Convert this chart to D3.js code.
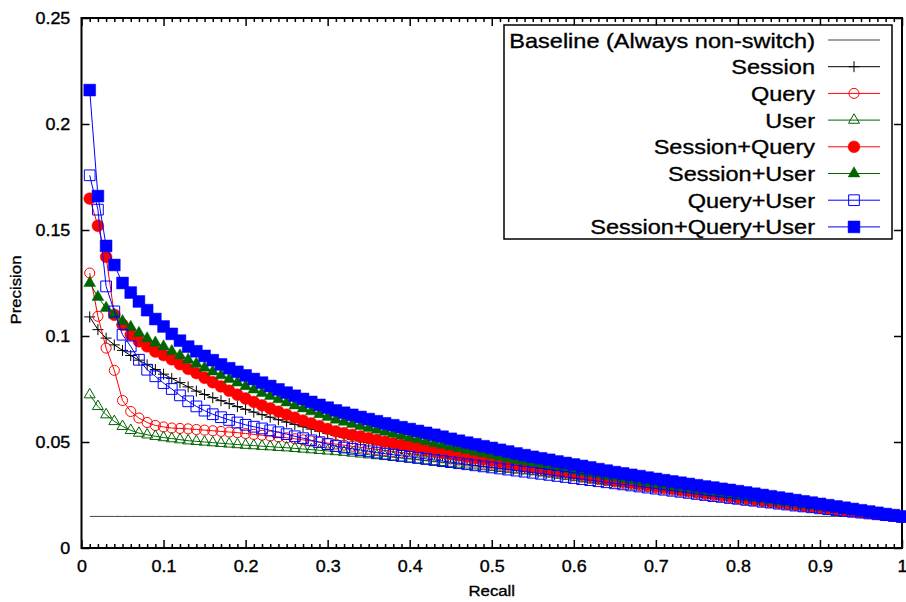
<!DOCTYPE html>
<html>
<head>
<meta charset="utf-8">
<script src="https://cdn.jsdelivr.net/npm/d3@7"></script>
<style>
  body { margin: 0; background: #fff; }
  text { font-family: "Liberation Sans", Arial, Helvetica, sans-serif; fill: #000; stroke: #000; stroke-width: 0.35px; }
</style>
</head>
<body>
<svg id="chart" width="906" height="602"></svg>
<script>
// recall grid: 0.01 .. 1.00
const recall = d3.range(1, 101).map(i => i / 100);

const baselineValue = 0.0149;

const session = [
  .1090,.1030,.0990,.0958,.0932,.0908,.0886,.0864,.0842,.0820,
  .0800,.0780,.0760,.0740,.0724,.0709,.0695,.0681,.0667,.0654,
  .0641,.0629,.0617,.0605,.0594,.0583,.0572,.0561,.0551,.0541,
  .0531,.0522,.0513,.0505,.0497,.0489,.0481,.0474,.0467,.0460,
  .0454,.0448,.0442,.0436,.0430,.0424,.0418,.0412,.0406,.0400,
  .0395,.0390,.0385,.0380,.0375,.0369,.0363,.0357,.0351,.0345,
  .0339,.0333,.0327,.0321,.0315,.0309,.0304,.0298,.0293,.0287,
  .0282,.0277,.0271,.0266,.0261,.0256,.0251,.0246,.0241,.0236,
  .0231,.0226,.0222,.0217,.0212,.0208,.0203,.0199,.0194,.0190,
  .0186,.0181,.0177,.0172,.0168,.0164,.0160,.0155,.0151,.0147
];
const query = [
  .1297,.1093,.0943,.0838,.0696,.0644,.0613,.0592,.0578,.0571,
  .0566,.0564,.0562,.0559,.0556,.0553,.0550,.0547,.0544,.0540,
  .0536,.0532,.0528,.0524,.0520,.0515,.0510,.0505,.0500,.0495,
  .0490,.0485,.0480,.0475,.0470,.0465,.0460,.0455,.0450,.0445,
  .0440,.0435,.0430,.0425,.0420,.0415,.0410,.0405,.0400,.0395,
  .0390,.0385,.0380,.0375,.0370,.0364,.0358,.0352,.0346,.0340,
  .0334,.0328,.0323,.0317,.0311,.0305,.0300,.0294,.0289,.0283,
  .0278,.0273,.0268,.0263,.0258,.0253,.0248,.0243,.0238,.0233,
  .0228,.0224,.0219,.0215,.0210,.0206,.0201,.0197,.0193,.0188,
  .0184,.0180,.0176,.0171,.0167,.0163,.0159,.0155,.0151,.0147
];
const user = [
  .0723,.0668,.0629,.0597,.0574,.0555,.0542,.0534,.0527,.0521,
  .0516,.0511,.0506,.0503,.0500,.0497,.0494,.0491,.0488,.0485,
  .0483,.0480,.0478,.0475,.0473,.0470,.0467,.0464,.0461,.0458,
  .0455,.0452,.0448,.0444,.0440,.0436,.0432,.0428,.0424,.0420,
  .0416,.0412,.0408,.0404,.0400,.0396,.0392,.0388,.0384,.0380,
  .0376,.0372,.0368,.0364,.0360,.0355,.0350,.0345,.0340,.0335,
  .0330,.0325,.0320,.0314,.0309,.0304,.0299,.0294,.0289,.0284,
  .0279,.0274,.0269,.0264,.0259,.0254,.0249,.0244,.0239,.0234,
  .0229,.0225,.0220,.0216,.0211,.0207,.0202,.0198,.0194,.0189,
  .0185,.0181,.0177,.0172,.0168,.0164,.0160,.0156,.0151,.0147
];
const sessionQuery = [
  .1648,.1520,.1373,.1100,.1053,.1006,.0975,.0951,.0927,.0910,
  .0890,.0867,.0845,.0825,.0803,.0782,.0762,.0742,.0723,.0705,
  .0689,.0673,.0658,.0643,.0629,.0615,.0601,.0588,.0575,.0562,
  .0550,.0542,.0534,.0526,.0518,.0510,.0502,.0494,.0487,.0480,
  .0473,.0466,.0459,.0452,.0445,.0438,.0431,.0424,.0418,.0412,
  .0406,.0400,.0394,.0388,.0382,.0376,.0370,.0364,.0358,.0352,
  .0346,.0340,.0334,.0327,.0321,.0315,.0310,.0304,.0298,.0292,
  .0287,.0282,.0276,.0271,.0265,.0260,.0255,.0250,.0245,.0240,
  .0235,.0230,.0225,.0220,.0215,.0211,.0206,.0201,.0196,.0192,
  .0188,.0183,.0179,.0174,.0169,.0165,.0161,.0156,.0152,.0147
];
const sessionUser = [
  .1250,.1184,.1132,.1100,.1069,.1042,.1014,.0988,.0968,.0950,
  .0928,.0908,.0888,.0869,.0850,.0832,.0814,.0797,.0780,.0763,
  .0747,.0731,.0716,.0701,.0686,.0672,.0658,.0644,.0631,.0618,
  .0605,.0595,.0585,.0575,.0566,.0557,.0548,.0539,.0530,.0521,
  .0512,.0503,.0494,.0486,.0478,.0470,.0462,.0454,.0446,.0438,
  .0430,.0422,.0415,.0408,.0401,.0394,.0387,.0380,.0373,.0365,
  .0358,.0352,.0346,.0339,.0333,.0326,.0320,.0313,.0307,.0301,
  .0295,.0290,.0284,.0278,.0272,.0266,.0261,.0255,.0250,.0244,
  .0239,.0234,.0229,.0224,.0218,.0214,.0209,.0204,.0199,.0194,
  .0190,.0185,.0180,.0175,.0171,.0166,.0162,.0157,.0152,.0147
];
const queryUser = [
  .1758,.1596,.1234,.1116,.1006,.0951,.0888,.0841,.0810,.0778,
  .0750,.0720,.0692,.0668,.0648,.0631,.0617,.0604,.0592,.0581,
  .0572,.0564,.0555,.0546,.0537,.0527,.0518,.0508,.0499,.0490,
  .0481,.0474,.0468,.0462,.0456,.0450,.0445,.0440,.0435,.0430,
  .0425,.0420,.0415,.0410,.0405,.0400,.0395,.0390,.0385,.0380,
  .0375,.0370,.0365,.0360,.0355,.0350,.0345,.0340,.0335,.0330,
  .0325,.0320,.0315,.0310,.0305,.0300,.0295,.0290,.0285,.0280,
  .0275,.0270,.0265,.0260,.0255,.0250,.0245,.0241,.0236,.0232,
  .0227,.0223,.0218,.0214,.0209,.0205,.0200,.0196,.0192,.0187,
  .0183,.0179,.0175,.0171,.0167,.0163,.0159,.0155,.0151,.0147
];
const sessionQueryUser = [
  .2160,.1660,.1425,.1335,.1250,.1205,.1163,.1122,.1080,.1045,
  .1010,.0978,.0950,.0928,.0906,.0886,.0866,.0848,.0831,.0814,
  .0797,.0780,.0764,.0748,.0733,.0718,.0703,.0689,.0675,.0662,
  .0649,.0638,.0628,.0618,.0608,.0598,.0588,.0579,.0570,.0561,
  .0552,.0543,.0534,.0525,.0515,.0506,.0497,.0489,.0480,.0472,
  .0463,.0455,.0446,.0438,.0430,.0423,.0416,.0408,.0401,.0394,
  .0387,.0380,.0372,.0365,.0358,.0352,.0345,.0339,.0332,.0326,
  .0320,.0314,.0308,.0302,.0296,.0290,.0285,.0279,.0274,.0268,
  .0262,.0256,.0250,.0244,.0238,.0232,.0226,.0220,.0214,.0208,
  .0202,.0196,.0190,.0184,.0178,.0172,.0166,.0160,.0155,.0149
];

const seriesNames = ["Session", "Query", "User", "Session+Query", "Session+User", "Query+User", "Session+Query+User"];
const seriesValues = [session, query, user, sessionQuery, sessionUser, queryUser, sessionQueryUser];
const seriesColors = ["#000000", "#ff0000", "#006400", "#ff0000", "#006400", "#0000ff", "#0000ff"];
const seriesMarkers = ["plus", "circleOpen", "triangleOpen", "circle", "triangle", "squareOpen", "square"];
const baselineName = "Baseline (Always non-switch)";

const xTicks = [0, 0.1, 0.2, 0.3, 0.4, 0.5, 0.6, 0.7, 0.8, 0.9, 1];
const yTicks = [0, 0.05, 0.1, 0.15, 0.2, 0.25];

const svg = d3.select("#chart");
const x = d3.scaleLinear().domain([0, 1]).range([81.5, 902]);
const y = d3.scaleLinear().domain([0, 0.25]).range([548, 18]);
const stretch = "scale(1.12,1)";
const fmt = d => String(+d.toFixed(2));

// minor x ticks every 0.01
const xMinor = d3.range(0, 101).map(i => i / 100).filter(v => Math.round(v * 100) % 10 !== 0);

function tidy(g) {
  g.select(".domain").remove();
  g.selectAll("line").attr("stroke", "#000").attr("stroke-width", 1.5);
}

svg.append("g").attr("transform", "translate(0,548)")
  .call(d3.axisBottom(x).tickValues(xMinor).tickSize(-4).tickFormat(""))
  .call(tidy);
svg.append("g").attr("transform", "translate(0,18)")
  .call(d3.axisTop(x).tickValues(xMinor).tickSize(-4).tickFormat(""))
  .call(tidy);
svg.append("g").attr("transform", "translate(0,18)")
  .call(d3.axisTop(x).tickValues(xTicks).tickSize(-8).tickFormat(""))
  .call(tidy);
svg.append("g").attr("transform", "translate(902,0)")
  .call(d3.axisRight(y).tickValues(yTicks).tickSize(-8).tickFormat(""))
  .call(tidy);

const xAxis = svg.append("g").attr("transform", "translate(0,548)")
  .call(d3.axisBottom(x).tickValues(xTicks).tickSize(-8).tickPadding(13).tickFormat(fmt))
  .call(tidy);
const yAxis = svg.append("g").attr("transform", "translate(81.5,0)")
  .call(d3.axisLeft(y).tickValues(yTicks).tickSize(-8).tickPadding(10).tickFormat(fmt))
  .call(tidy);
[xAxis, yAxis].forEach(g => g.selectAll("text")
  .attr("font-size", 16).attr("fill", "#000").attr("stroke", "#000").attr("stroke-width", 0.4)
  .attr("font-family", "'Liberation Sans', Arial, sans-serif")
  .attr("transform", stretch));

// frame
svg.append("rect")
  .attr("x", x(0)).attr("y", y(0.25))
  .attr("width", x(1) - x(0)).attr("height", y(0) - y(0.25))
  .attr("fill", "none").attr("stroke", "#000").attr("stroke-width", 2);

// axis titles
svg.append("text").attr("transform", `translate(${(x(0) + x(1)) / 2},596) ${stretch}`)
  .attr("text-anchor", "middle").attr("font-size", 15).text("Recall");
svg.append("text").attr("transform", `translate(21,290) rotate(-90) ${stretch}`)
  .attr("text-anchor", "middle").attr("font-size", 15).text("Precision");

function drawMarker(g, type, color) {
  if (type === "plus") {
    g.append("path").attr("d", "M-5.5,0H5.5M0,-5.5V5.5").attr("stroke", color).attr("stroke-width", 1).attr("fill", "none");
    return;
  }
  const sym = {
    circleOpen: [d3.symbolCircle, 80], circle: [d3.symbolCircle, 110],
    triangleOpen: [d3.symbolTriangle, 52], triangle: [d3.symbolTriangle, 60],
    squareOpen: [d3.symbolSquare, 115], square: [d3.symbolSquare, 140]
  }[type];
  const filled = !type.endsWith("Open");
  g.append("path").attr("d", d3.symbol(sym[0], sym[1])())
    .attr("fill", filled ? color : "none")
    .attr("stroke", color).attr("stroke-width", filled ? 0.5 : 1);
}

const line = d3.line().x(d => x(d[0])).y(d => y(d[1]));

// baseline
svg.append("path")
  .datum(recall.map(r => [r, baselineValue]))
  .attr("d", line).attr("fill", "none").attr("stroke", "#444").attr("stroke-width", 1);

seriesValues.forEach((vals, k) => {
  const pts = recall.map((r, i) => [r, vals[i]]);
  svg.append("path").datum(pts).attr("d", line)
    .attr("fill", "none").attr("stroke", seriesColors[k]).attr("stroke-width", 1);
  const mg = svg.append("g");
  pts.forEach(p => {
    const g = mg.append("g").attr("transform", `translate(${x(p[0])},${y(p[1])})`);
    drawMarker(g, seriesMarkers[k], seriesColors[k]);
  });
});

// legend
const legend = svg.append("g");
legend.append("rect").attr("x", 504).attr("y", 25).attr("width", 388).attr("height", 214)
  .attr("fill", "#fff").attr("stroke", "#000").attr("stroke-width", 1.5);
const legendNames = [baselineName].concat(seriesNames);
const legendColors = ["#444"].concat(seriesColors);
const legendMarkers = [null].concat(seriesMarkers);
legendNames.forEach((name, k) => {
  const cy = 40 + k * 26.7;
  legend.append("text").attr("transform", `translate(815,${cy + 7.5}) ${stretch}`)
    .attr("text-anchor", "end").attr("font-size", 21).text(name);
  legend.append("line").attr("x1", 828).attr("x2", 880).attr("y1", cy).attr("y2", cy)
    .attr("stroke", legendColors[k]).attr("stroke-width", 1);
  if (legendMarkers[k]) {
    const g = legend.append("g").attr("transform", `translate(854,${cy})`);
    drawMarker(g, legendMarkers[k], legendColors[k]);
  }
});
</script>
</body>
</html>
